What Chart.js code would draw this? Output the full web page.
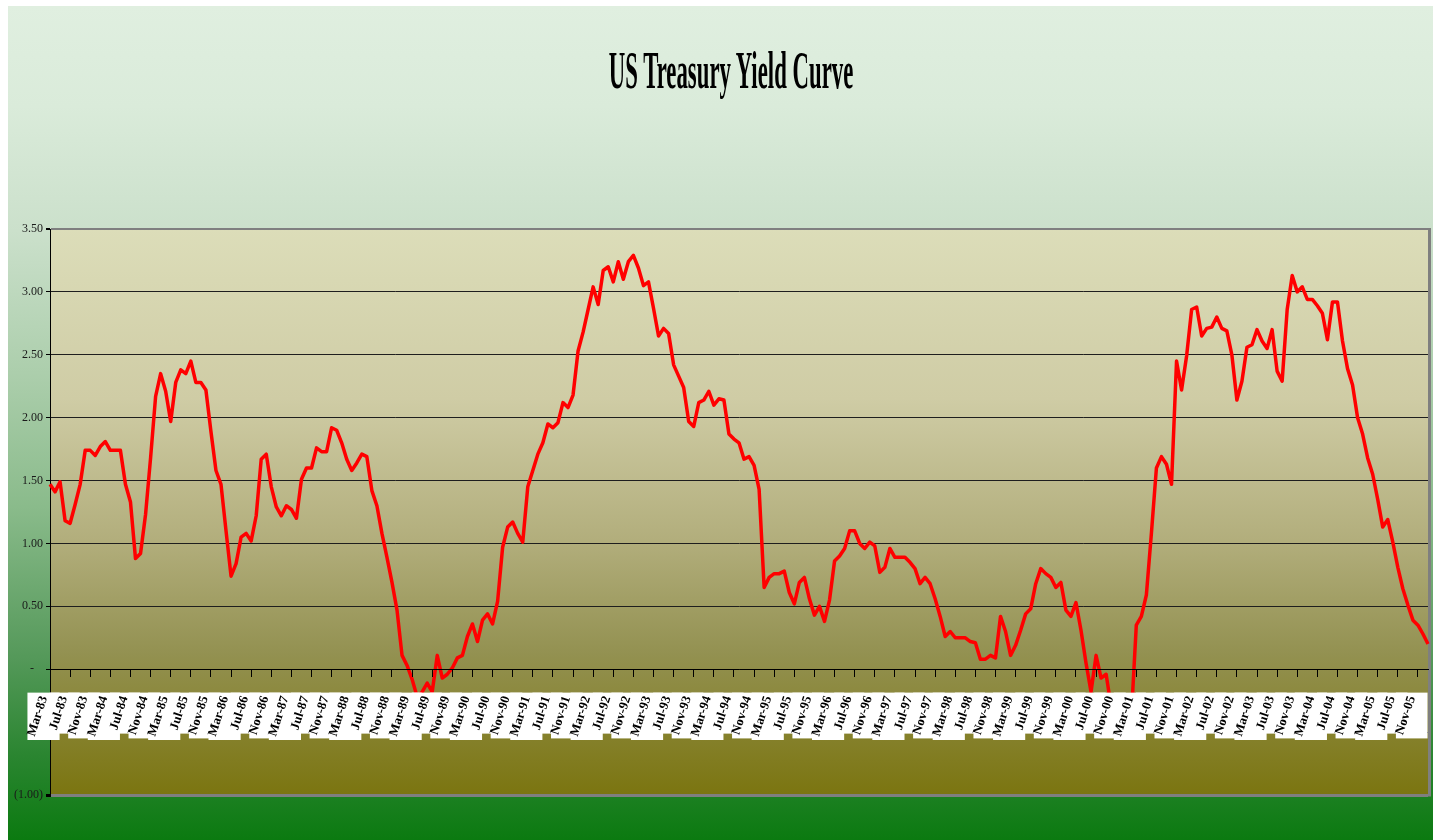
<!DOCTYPE html>
<html lang="en">
<head>
<meta charset="UTF-8">
<title>US Treasury Yield Curve</title>
<script src="https://cdn.jsdelivr.net/npm/chart.js@4"></script>
<style>
    html, body { margin: 0; padding: 0; background: #fff; }
    #box {
        position: absolute; left: 8px; top: 6px; width: 1425px; height: 834px;
        background: linear-gradient(to bottom, #e0efe0 0%, #daebda 12%, #cbe0cb 27%, #aacdaa 45%,
            #8abb8b 60%, #55995a 78%, #2a8530 90%, #0b7a10 100%);
    }
    #title {
        position: absolute; left: 723px; top: 38px; z-index: 1;
        font: bold 53px/53px "Liberation Serif", "Times New Roman", serif;
        color: #000; white-space: nowrap;
        transform: translateX(-50%) scaleX(0.43);
    }
    #myChart { position: absolute; left: 0; top: 0; }
</style>
</head>
<body>
<div id="box">
    <div id="title">US Treasury Yield Curve</div>
    <canvas id="myChart"></canvas>
</div>

<script>
    // monthly spread, first month Mar-83
    const startYear = 1983;
    const startMonth = 2;
    const monthNames = ['Jan', 'Feb', 'Mar', 'Apr', 'May', 'Jun', 'Jul', 'Aug', 'Sep', 'Oct', 'Nov', 'Dec'];

    const spread = [
        1.47, 1.41, 1.49, 1.18, 1.16, 1.31, 1.47, 1.74, 1.74, 1.70,
        1.77, 1.81, 1.74, 1.74, 1.74, 1.47, 1.33, 0.88, 0.92, 1.23,
        1.68, 2.17, 2.35, 2.21, 1.97, 2.28, 2.38, 2.35, 2.45, 2.28,
        2.28, 2.22, 1.89, 1.58, 1.47, 1.10, 0.74, 0.84, 1.05, 1.08,
        1.02, 1.22, 1.67, 1.71, 1.45, 1.29,
        1.22, 1.30, 1.27, 1.20, 1.51, 1.60, 1.60, 1.76, 1.73, 1.73,
        1.92, 1.90, 1.80, 1.67, 1.58, 1.64, 1.71, 1.69, 1.42, 1.30,
        1.08, 0.89, 0.69, 0.47, 0.11, 0.03, -0.08, -0.22, -0.18, -0.11,
        -0.18, 0.11, -0.07, -0.04, 0.01, 0.09, 0.11, 0.26, 0.36, 0.22,
        0.39, 0.44, 0.36, 0.54, 0.97, 1.13,
        1.17, 1.08, 1.01, 1.45, 1.58, 1.71, 1.80, 1.95, 1.92, 1.96,
        2.12, 2.08, 2.18, 2.53, 2.68, 2.86, 3.04, 2.90, 3.17, 3.20,
        3.08, 3.24, 3.10, 3.24, 3.29, 3.19, 3.05, 3.08, 2.87, 2.65,
        2.71, 2.67, 2.42, 2.33, 2.24, 1.97, 1.93, 2.12, 2.14, 2.21,
        2.10, 2.15, 2.14, 1.87, 1.83, 1.80,
        1.67, 1.69, 1.62, 1.43, 0.65, 0.73, 0.76, 0.76, 0.78, 0.61,
        0.52, 0.69, 0.73, 0.56, 0.43, 0.50, 0.38, 0.55, 0.86, 0.90,
        0.96, 1.10, 1.10, 1.00, 0.96, 1.01, 0.98, 0.77, 0.81, 0.96,
        0.89, 0.89, 0.89, 0.85, 0.80, 0.68, 0.73, 0.68, 0.56, 0.42,
        0.26, 0.30, 0.25, 0.25, 0.25, 0.22,
        0.21, 0.08, 0.08, 0.11, 0.09, 0.42, 0.30, 0.11, 0.19, 0.31,
        0.44, 0.48, 0.68, 0.80, 0.76, 0.73, 0.65, 0.69, 0.47, 0.42,
        0.53, 0.31, 0.05, -0.18, 0.11, -0.07, -0.04, -0.30, -0.45, -0.50,
        -0.45, -0.39, 0.35, 0.42, 0.59, 1.08, 1.60, 1.69, 1.63, 1.47,
        2.45, 2.22, 2.49, 2.86, 2.88, 2.65,
        2.71, 2.72, 2.80, 2.71, 2.69, 2.50, 2.14, 2.29, 2.56, 2.58,
        2.70, 2.61, 2.55, 2.70, 2.37, 2.29, 2.86, 3.13, 3.00, 3.04,
        2.94, 2.94, 2.89, 2.83, 2.62, 2.92, 2.92, 2.61, 2.39, 2.26,
        2.00, 1.87, 1.68, 1.55, 1.35, 1.13, 1.19, 1.01, 0.81, 0.64,
        0.51, 0.39, 0.35, 0.28, 0.20
    ];

    const months = spread.map((v, i) => {
        const m = startMonth + i;
        const yr = startYear + Math.floor(m / 12);
        return monthNames[m % 12] + '-' + String(yr).slice(2);
    });

    const yMin = -1, yMax = 3.5, yStep = 0.5;
    const labelEvery = 4;

    const tickLen = 7, tickPad = 18, labelShift = -6, bandPad = 2;
    const xFont = { family: 'Liberation Serif', size: 13, weight: 'bold' };

    function acct(v) {
        if (Math.abs(v) < 1e-9) return '-\u00a0\u00a0\u00a0';
        if (Math.abs(v + 0.5) < 1e-9) return '';   // sits under the label strip
        const s = Math.abs(v).toFixed(2);
        return v < 0 ? '(' + s + ')' : s;
    }

    // plot area fill + right frame
    const plotBackground = {
        id: 'plotBackground',
        beforeDraw(chart) {
            const { ctx, chartArea: a } = chart;
            const g = ctx.createLinearGradient(0, a.top, 0, a.bottom);
            g.addColorStop(0, '#dcddb9');
            g.addColorStop(0.3, '#cfcca5');
            g.addColorStop(0.55, '#b2ae7c');
            g.addColorStop(0.75, '#939151');
            g.addColorStop(1, '#7b7510');
            ctx.save();
            ctx.fillStyle = g;
            ctx.fillRect(a.left, a.top, a.right - a.left, a.bottom - a.top);
            ctx.restore();
        },
        beforeDatasetsDraw(chart) {
            const { ctx, chartArea: a } = chart;
            ctx.save();
            ctx.strokeStyle = '#7f7f7f';
            ctx.lineWidth = 3;
            ctx.beginPath();
            ctx.moveTo(a.right + 1.5, a.top - 1);
            ctx.lineTo(a.right + 1.5, a.bottom + 1.5);
            ctx.stroke();
            ctx.restore();
        }
    };

    // white boxes behind the category labels (over the line, under the labels)
    const labelBand = {
        id: 'labelBand',
        afterDatasetsDraw(chart) {
            const xs = chart.scales.x, ys = chart.scales.y, ctx = chart.ctx;
            const rot = xs.labelRotation * Math.PI / 180;
            const c = Math.cos(rot), s = Math.sin(rot);
            const size = xFont.size, lh = size * 1.2;
            const a = lh / 2 - size / 2, b = lh / 2 + size / 2;
            const y0 = ys.getPixelForValue(0) + tickLen + tickPad;
            ctx.save();
            ctx.font = 'bold ' + size + 'px "Liberation Serif"';
            ctx.fillStyle = '#ffffff';
            xs.ticks.forEach((t, i) => {
                if (i % labelEvery) return;
                const w = ctx.measureText(months[i]).width;
                const px = xs.getPixelForTick(i) + labelShift;
                const left = px - w * c + a * s - bandPad - 3;
                const right = px + b * s + bandPad;
                const top = y0 + a * c - bandPad;
                const bottom = y0 + w * s + b * c + bandPad;
                ctx.fillRect(left, top, right - left, bottom - top);
            });
            ctx.restore();
        }
    };

    const ctx = document.getElementById('myChart');

    new Chart(ctx, {
        type: 'line',
        data: {
            labels: months,
            datasets: [{
                label: 'Spread',
                data: spread,
                borderColor: '#ff0000',
                borderWidth: 3.5,
                pointRadius: 0,
                tension: 0,
                borderJoinStyle: 'round',
                fill: false
            }]
        },
        options: {
            responsive: true,
            maintainAspectRatio: false,
            animation: false,
            events: [],
            layout: { padding: { top: 223, right: 5, bottom: 45, left: 0 } },
            plugins: {
                legend: { display: false },
                title: { display: false },
                tooltip: { enabled: false }
            },
            scales: {
                x: {
                    type: 'category',
                    position: { y: 0 },
                    offset: false,
                    border: { display: true, color: '#000', width: 1, z: 1 },
                    grid: {
                        z: 1,
                        drawOnChartArea: false,
                        drawTicks: true,
                        tickLength: tickLen,
                        tickWidth: 1,
                        tickColor: c => (c.index % labelEvery === 0 ? '#000' : 'rgba(0,0,0,0)'),
                        color: c => (c.index % labelEvery === 0 ? '#000' : 'rgba(0,0,0,0)')
                    },
                    ticks: {
                        z: 1,
                        autoSkip: false,
                        minRotation: 72,
                        maxRotation: 72,
                        padding: tickPad,
                        labelOffset: labelShift,
                        color: '#000',
                        font: xFont,
                        callback: (v, i) => (i % labelEvery === 0 ? months[i] : '')
                    },
                    afterFit: s => { s.paddingLeft = 0; s.paddingRight = 0; }
                },
                y: {
                    min: yMin,
                    max: yMax,
                    border: { display: true, color: '#000', width: 1 },
                    grid: {
                        drawTicks: true,
                        tickLength: 4,
                        tickColor: '#000',
                        color: c => {
                            const v = c.tick.value;
                            if (v === yMax || v === yMin) return '#7f7f7f';
                            return '#1e1e1e';
                        },
                        lineWidth: c => {
                            const v = c.tick.value;
                            if (v === yMax) return 2;
                            if (v === yMin) return 3;
                            return 1;
                        }
                    },
                    ticks: {
                        stepSize: yStep,
                        padding: 3,
                        color: '#1a1a1a',
                        font: { family: 'Liberation Serif', size: 12 },
                        callback: v => acct(v)
                    },
                    afterFit: s => { s.width = 42; }
                }
            }
        },
        plugins: [plotBackground, labelBand]
    });
</script>
</body>
</html>
